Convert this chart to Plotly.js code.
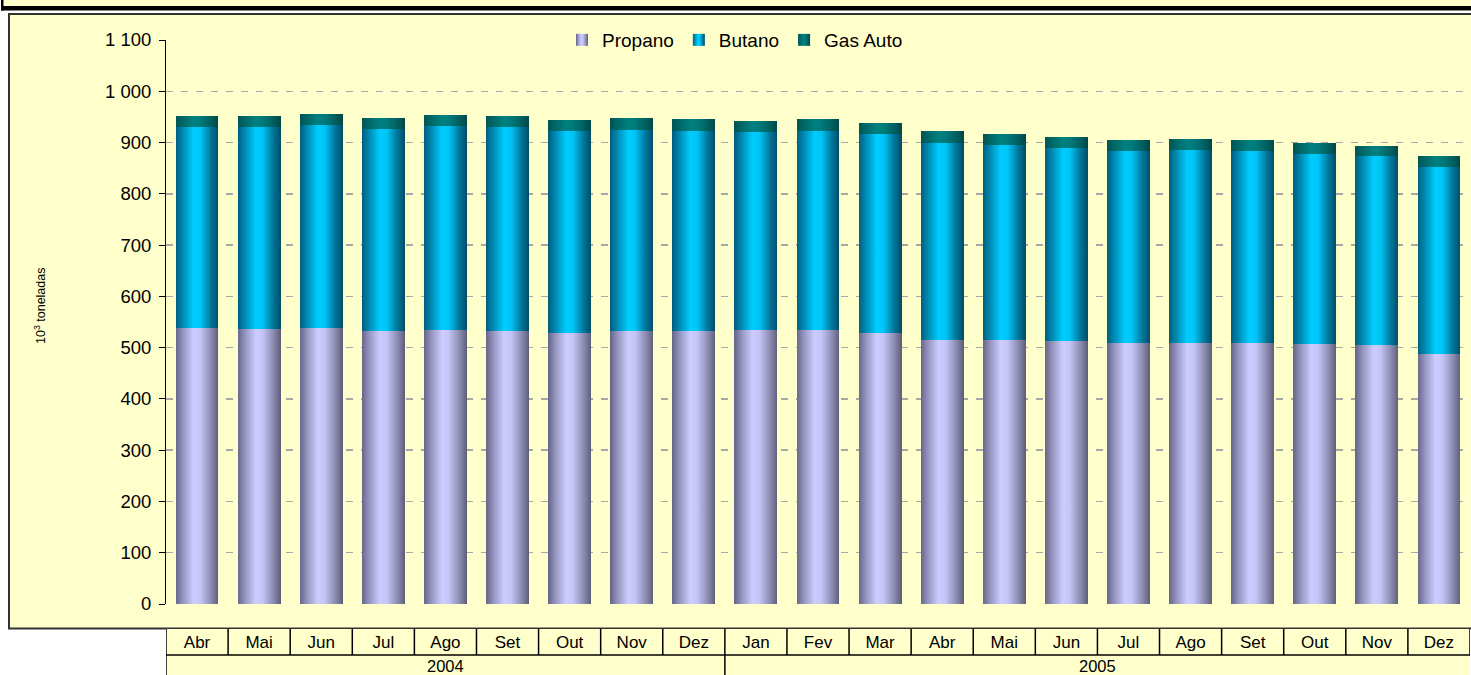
<!DOCTYPE html>
<html>
<head>
<meta charset="utf-8">
<script src="https://cdn.plot.ly/plotly-3.0.1.min.js"></script>
<style>
  html, body { margin: 0; padding: 0; background: #ffffff; }
  #chart { width: 1471px; height: 675px; }
</style>
</head>
<body>
<div id="chart"></div>
<script>
// ---- data (10^3 toneladas) ----
const months = ['Abr','Mai','Jun','Jul','Ago','Set','Out','Nov','Dez','Jan','Fev','Mar','Abr','Mai','Jun','Jul','Ago','Set','Out','Nov','Dez'];
const periodYears = ['2004','2004','2004','2004','2004','2004','2004','2004','2004','2005','2005','2005','2005','2005','2005','2005','2005','2005','2005','2005','2005'];
const yearLabels = ['2004','2005'];
const propano = [538,536,538,532,534,532,528,532,532,534,534,528,515,514,512,510,510,510,508,505,487];
const butano  = [392,394,396,394,398,398,394,392,390,386,388,388,384,381,377,373,375,373,369,368,365];
const gasAuto = [21,21,21,21,21,21,22,23,24,23,24,22,23,21,21,22,22,22,22,21,21];
const seriesNames = ['Propano','Butano','Gas Auto'];
const yTickVals = [0,100,200,300,400,500,600,700,800,900,1000,1100];
const yTitle = '10<sup>3</sup> toneladas';

// ---- styling ----
const FONT = 'Liberation Sans, Arial, sans-serif';
const BG = '#FFFFCC';
const baseColors = ['#B8B8E8', '#00C0F0', '#007070'];
const gradStops = [
  [['0%','#66668A'],['20%','#9C9CC8'],['42%','#CCCCFF'],['58%','#C4C4F6'],['82%','#8E8EB4'],['100%','#5E5E7A']],
  [['0%','#005E7E'],['20%','#0092BC'],['42%','#00CCFF'],['58%','#00C4F6'],['82%','#00789C'],['100%','#004E68']],
  [['0%','#005454'],['20%','#006A6A'],['42%','#008080'],['58%','#007A7A'],['82%','#006060'],['100%','#004848']]
];

const cats = months.map((m, i) => m + ' ' + periodYears[i]);
const values = [propano, butano, gasAuto];

const traces = values.map((v, k) => ({
  type: 'bar',
  name: seriesNames[k],
  x: cats,
  y: v,
  marker: { color: baseColors[k], line: { width: 0 } },
  hoverinfo: 'skip'
}));

// pixel helpers -> paper coordinates (plot area x:166..1470, y:40..604)
const L = 166, R = 1470, T = 40, B = 604;
const xp = px => (px - L) / (R - L);
const yp = py => (B - py) / (B - T);

const shapes = [];
// yellow chart panel with dark border
shapes.push({type:'rect', layer:'below', xref:'paper', yref:'paper',
  x0: xp(9), x1: xp(1490), y0: yp(628.5), y1: yp(14),
  fillcolor: BG, line: {color:'#333333', width:2}});
// top strip (title band, clipped)
shapes.push({type:'rect', layer:'below', xref:'paper', yref:'paper',
  x0: xp(3), x1: xp(1490), y0: yp(7), y1: yp(-5),
  fillcolor: BG, line: {width:0}});
shapes.push({type:'rect', layer:'below', xref:'paper', yref:'paper',
  x0: xp(1), x1: xp(1490), y0: yp(10.5), y1: yp(6),
  fillcolor: '#000000', line: {width:0}});
shapes.push({type:'rect', layer:'below', xref:'paper', yref:'paper',
  x0: xp(1), x1: xp(3.5), y0: yp(10.5), y1: yp(-5),
  fillcolor: '#000000', line: {width:0}});
// category table background
shapes.push({type:'rect', layer:'below', xref:'x', yref:'paper',
  x0: -0.5, x1: cats.length + 1, y0: yp(700), y1: yp(629),
  fillcolor: BG, line: {width:0}});
// table lines
const yRowTop = yp(629), yRowMid = yp(655), yRowBot = yp(700);
shapes.push({type:'line', xref:'x', yref:'paper', x0:-0.5, x1:cats.length + 1, y0:yRowMid, y1:yRowMid,
  line:{color:'#000000', width:1.5}});
for (let i = 0; i <= cats.length; i++) {
  shapes.push({type:'line', xref:'x', yref:'paper', x0:i-0.5, x1:i-0.5, y0:yRowTop, y1:yRowMid,
    line:{color:'#000000', width:1.5}});
}
const annotations = [];
yearLabels.forEach(yr => {
  const first = periodYears.indexOf(yr);
  const last = periodYears.lastIndexOf(yr);
  shapes.push({type:'line', xref:'x', yref:'paper', x0:first-0.5, x1:first-0.5, y0:yRowMid, y1:yRowBot,
    line:{color:'#000000', width:1.5}});
  annotations.push({xref:'x', yref:'paper', x:(first+last)/2, y:yp(656), text:yr, showarrow:false,
    xanchor:'center', yanchor:'top', borderpad:0, font:{family:FONT, size:16.5, color:'#000000'}});
});
// y-axis title (rotated, placed like the reference)
annotations.push({xref:'paper', yref:'paper', x:xp(40), y:yp(306), text:yTitle, textangle:-90,
  showarrow:false, xanchor:'center', yanchor:'middle', font:{family:FONT, size:12.5, color:'#000000'}});

const layout = {
  width: 1471, height: 675,
  margin: {l: L, r: 1471 - R, t: T, b: 675 - B, pad: 0},
  paper_bgcolor: '#ffffff',
  plot_bgcolor: 'rgba(0,0,0,0)',
  barmode: 'stack',
  bargap: 0.31,
  separators: '. ',
  font: {family: FONT, color: '#000000'},
  showlegend: true,
  legend: {orientation:'h', x: xp(735), xanchor:'center', y: 1, yanchor:'middle',
    bgcolor: BG, borderwidth: 0, traceorder:'normal',
    font:{family:FONT, size:19, color:'#000000'}, itemwidth:30},
  xaxis: {type:'category', range:[-0.5, cats.length - 0.5], showgrid:false, showline:false,
    zeroline:false, ticks:'', tickvals: cats, ticktext: months,
    tickfont:{family:FONT, size:17, color:'#000000'}, ticklabelstandoff: 26, fixedrange:true},
  yaxis: {range:[0, 1100], tickvals: yTickVals, tickformat:',d', showline:true, linecolor:'#000000',
    linewidth:1, ticks:'outside', ticklen:6, tickcolor:'#000000', tickwidth:1,
    showgrid:true, gridcolor:'#A8A8A8', gridwidth:1.5, griddash:'7px,8px', zeroline:false,
    tickfont:{family:FONT, size:18.5, color:'#000000'}, ticklabelstandoff: 4,
    fixedrange:true},
  shapes: shapes,
  annotations: annotations
};

function applyGradients(gd) {
  const svg = gd.querySelector('svg.main-svg');
  const NS = 'http://www.w3.org/2000/svg';
  let defs = svg.querySelector('defs');
  if (!defs) { defs = document.createElementNS(NS, 'defs'); svg.insertBefore(defs, svg.firstChild); }
  gradStops.forEach((stops, k) => {
    const g = document.createElementNS(NS, 'linearGradient');
    g.setAttribute('id', 'barGrad' + k);
    g.setAttribute('x1', '0'); g.setAttribute('x2', '1');
    g.setAttribute('y1', '0'); g.setAttribute('y2', '0');
    stops.forEach(s => {
      const st = document.createElementNS(NS, 'stop');
      st.setAttribute('offset', s[0]);
      st.setAttribute('stop-color', s[1]);
      g.appendChild(st);
    });
    defs.appendChild(g);
  });
  gd.querySelectorAll('.barlayer .trace.bars').forEach((tr, k) => {
    tr.querySelectorAll('path').forEach(p => { p.style.fill = 'url(#barGrad' + k + ')'; });
  });
  gd.querySelectorAll('.legend .traces').forEach((tr, k) => {
    tr.querySelectorAll('.legendpoints path').forEach(p => { p.style.fill = 'url(#barGrad' + k + ')'; });
  });
}

Plotly.newPlot('chart', traces, layout, {displayModeBar:false, staticPlot:true})
  .then(gd => applyGradients(gd));
</script>
</body>
</html>
